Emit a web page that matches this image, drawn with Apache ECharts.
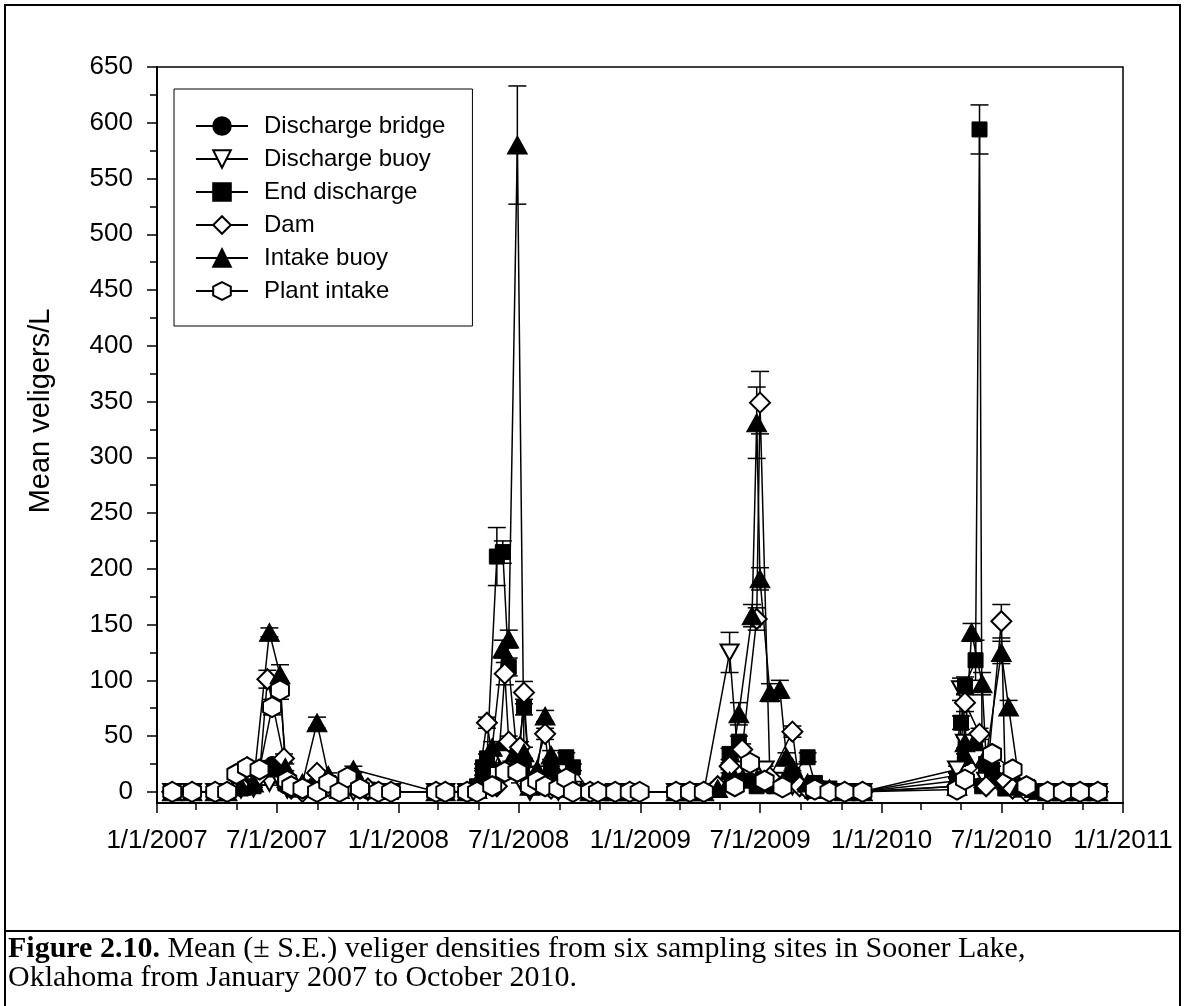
<!DOCTYPE html>
<html>
<head>
<meta charset="utf-8">
<title>Sooner Lake veliger densities</title>
<script src="https://cdn.jsdelivr.net/npm/echarts@6/dist/echarts.min.js"></script>
<style>
  html, body { margin: 0; padding: 0; background: #fff; }
  #chart { width: 1185px; height: 1006px; }
</style>
</head>
<body>
<div id="chart"></div>
<script>
// Mean veligers/L per sampling date: [date, mean, S.E.]
const dischargeBridge = [
  ['2007-01-24',0,0],['2007-02-23',0,0],['2007-03-30',0,0],['2007-04-17',0,0],
  ['2007-05-08',3,1],['2007-05-27',5,1],['2007-06-24',25,3],['2007-07-06',22,3],
  ['2007-07-14',5,1],['2007-08-09',3,1],['2007-08-31',8,2],['2007-09-17',5,1],
  ['2007-10-25',5,1],['2007-11-16',0,0],['2007-12-21',0,0],['2008-02-27',0,0],['2008-03-12',0,0],
  ['2008-04-14',0,0],['2008-04-29',0,0],['2008-05-22',20,3],['2008-06-07',40,5],['2008-06-22',30,4],
  ['2008-07-09',25,3],['2008-07-29',10,2],['2008-08-19',15,2],['2008-09-11',10,2],
  ['2008-10-17',0,0],['2008-11-24',0,0],['2008-12-16',0,0],
  ['2009-02-24',0,0],['2009-03-17',0,0],['2009-04-07',0,0],['2009-05-16',15,2],['2009-06-04',20,3],
  ['2009-06-26',10,2],['2009-07-16',5,1],['2009-08-19',10,2],['2009-09-22',3,1],['2009-11-06',0,0],['2009-12-03',0,0],
  ['2010-04-25',15,2],['2010-05-07',30,4],['2010-05-23',40,5],['2010-06-08',20,3],['2010-07-01',10,2],
  ['2010-07-18',5,1],['2010-08-08',2,1],['2010-09-09',0,0],['2010-10-02',0,0],['2010-10-28',0,0],['2010-11-24',0,0]
];
const dischargeBuoy = [
  ['2007-01-24',0,0],['2007-02-23',0,0],['2007-03-30',0,0],['2007-04-17',0,0],
  ['2007-05-08',2,1],['2007-05-27',3,1],['2007-06-20',8,2],['2007-07-06',10,2],['2007-07-17',2,1],
  ['2007-08-09',2,1],['2007-08-31',3,1],['2007-09-26',2,1],['2007-10-25',0,0],['2007-11-16',0,0],
  ['2007-12-21',0,0],['2008-02-27',0,0],['2008-03-12',0,0],
  ['2008-04-14',0,0],['2008-04-29',0,0],['2008-05-22',15,2],['2008-06-07',30,4],['2008-06-22',20,3],
  ['2008-07-03',10,2],['2008-07-18',0,0],['2008-08-10',10,2],['2008-08-30',0,0],['2008-09-21',2,1],
  ['2008-10-17',0,0],['2008-11-24',0,0],['2008-12-16',0,0],
  ['2009-02-24',0,0],['2009-03-17',0,0],['2009-04-07',0,0],['2009-05-16',125,18],['2009-05-30',20,3],
  ['2009-06-16',15,2],['2009-07-08',20,3],['2009-07-23',10,2],['2009-08-19',5,1],['2009-09-22',2,1],
  ['2009-10-14',0,0],['2009-11-06',0,0],['2009-12-03',0,0],
  ['2010-04-25',20,3],['2010-05-01',92,10],['2010-05-07',44,5],['2010-05-23',30,4],['2010-06-08',10,2],
  ['2010-07-01',5,1],['2010-07-18',3,1],['2010-08-08',0,0],['2010-09-09',0,0],['2010-10-02',0,0],
  ['2010-10-28',0,0],['2010-11-24',0,0]
];
const endDischarge = [
  ['2007-01-24',0,0],['2007-02-23',0,0],['2007-03-30',0,0],['2007-04-17',0,0],
  ['2007-05-08',3,1],['2007-05-27',5,1],['2007-06-17',20,3],['2007-07-06',20,3],['2007-07-14',8,2],
  ['2007-07-31',2,1],['2007-08-31',5,1],['2007-09-17',8,2],['2007-10-16',5,1],['2007-11-16',2,1],
  ['2007-12-21',0,0],['2008-02-27',0,0],['2008-03-12',0,0],
  ['2008-04-14',0,0],['2008-04-29',5,1],['2008-05-08',22,3],['2008-05-14',30,4],['2008-05-29',211,26],
  ['2008-06-07',215,10],['2008-06-16',112,8],['2008-06-29',30,4],['2008-07-09',76,7],['2008-07-18',10,2],
  ['2008-07-29',8,2],['2008-08-10',5,1],['2008-08-19',20,3],['2008-09-11',31,4],['2008-09-21',22,3],
  ['2008-10-17',0,0],['2008-10-29',0,0],['2008-11-24',0,0],['2008-12-16',0,0],
  ['2009-02-24',0,0],['2009-03-17',0,0],['2009-04-07',0,0],['2009-04-28',2,1],['2009-05-16',34,5],
  ['2009-05-30',45,5],['2009-06-10',10,2],['2009-06-26',5,1],['2009-07-08',10,2],['2009-07-23',5,1],
  ['2009-08-19',15,2],['2009-09-11',31,4],['2009-09-22',8,2],['2009-10-14',3,1],['2009-11-06',0,0],['2009-12-03',0,0],
  ['2010-04-25',10,2],['2010-05-01',62,6],['2010-05-07',95,8],['2010-05-23',118,18],['2010-05-29',594,22],
  ['2010-06-02',5,1],['2010-06-08',25,3],['2010-06-17',20,3],['2010-06-25',10,2],['2010-07-07',3,1],
  ['2010-07-18',5,1],['2010-07-29',2,1],['2010-08-08',3,1],['2010-08-20',0,0],['2010-09-09',0,0],
  ['2010-10-02',0,0],['2010-10-28',0,0],['2010-11-24',0,0]
];
const dam = [
  ['2007-01-24',0,0],['2007-02-23',0,0],['2007-03-30',0,0],['2007-04-17',0,0],
  ['2007-05-08',5,1],['2007-05-17',22,2],['2007-06-05',15,2],['2007-06-17',101,8],['2007-07-12',30,4],
  ['2007-07-23',3,1],['2007-08-09',0,0],['2007-08-31',17,2],['2007-09-17',5,1],['2007-10-04',0,0],
  ['2007-10-16',5,1],['2007-11-16',3,1],['2007-12-02',0,0],['2007-12-21',0,0],['2008-02-27',0,0],['2008-03-12',0,0],
  ['2008-04-14',0,0],['2008-04-29',0,0],['2008-05-14',62,5],['2008-05-29',5,1],['2008-06-10',106,10],
  ['2008-06-16',45,5],['2008-07-03',40,5],['2008-07-09',89,10],['2008-07-18',5,1],['2008-08-10',52,5],
  ['2008-08-19',3,1],['2008-08-30',8,2],['2008-09-21',2,1],['2008-10-17',0,0],['2008-10-29',0,0],
  ['2008-11-24',0,0],['2008-12-16',0,0],
  ['2009-02-24',0,0],['2009-03-17',0,0],['2009-04-07',0,0],['2009-04-28',5,1],['2009-05-16',23,3],
  ['2009-06-04',38,5],['2009-06-26',155,10],['2009-07-01',349,28],['2009-07-16',13,2],['2009-08-19',54,5],
  ['2009-08-30',5,1],['2009-09-11',2,1],['2009-10-14',0,0],['2009-11-06',0,0],['2009-12-03',0,0],
  ['2010-04-25',5,1],['2010-05-07',80,8],['2010-05-29',52,5],['2010-06-08',5,1],['2010-07-01',153,15],
  ['2010-07-07',10,2],['2010-07-18',3,1],['2010-08-08',0,0],['2010-09-09',0,0],['2010-10-02',0,0],
  ['2010-10-28',0,0],['2010-11-24',0,0]
];
const intakeBuoy = [
  ['2007-01-24',0,0],['2007-02-23',0,0],['2007-03-30',0,0],['2007-04-17',0,0],
  ['2007-05-08',5,1],['2007-05-27',8,2],['2007-06-20',143,4],['2007-07-06',105,9],['2007-07-14',22,3],
  ['2007-07-31',5,1],['2007-08-09',8,2],['2007-08-31',62,5],['2007-09-17',15,2],['2007-10-04',2,1],
  ['2007-10-25',20,3],['2008-02-27',0,0],['2008-03-12',0,0],
  ['2008-04-14',0,0],['2008-04-29',2,1],['2008-05-08',18,3],['2008-05-22',40,5],['2008-06-07',128,8],
  ['2008-06-16',137,8],['2008-06-29',580,53],['2008-07-09',35,5],['2008-07-18',5,2],['2008-07-29',20,3],
  ['2008-08-10',68,5],['2008-08-19',33,4],['2008-08-30',15,3],['2008-09-21',3,1],['2008-10-17',0,0],
  ['2008-10-29',0,0],['2008-11-24',0,0],['2008-12-16',0,0],
  ['2009-02-24',0,0],['2009-03-17',0,0],['2009-04-07',0,0],['2009-04-28',3,1],['2009-05-16',10,2],
  ['2009-05-30',70,10],['2009-06-19',158,10],['2009-06-26',331,32],['2009-07-01',191,10],['2009-07-16',89,8],
  ['2009-07-31',92,8],['2009-08-10',31,4],['2009-08-19',22,3],['2009-09-11',8,2],['2009-09-22',2,1],
  ['2009-10-14',3,1],['2009-11-06',0,0],['2009-12-03',0,0],
  ['2010-04-25',5,1],['2010-05-07',44,5],['2010-05-17',143,8],['2010-06-02',97,10],['2010-06-08',30,4],
  ['2010-07-01',125,10],['2010-07-12',76,6],['2010-07-29',5,1],['2010-08-08',6,1],['2010-08-20',3,1],
  ['2010-09-09',0,0],['2010-10-02',0,0],['2010-10-28',0,0],['2010-11-24',0,0]
];
const plantIntake = [
  ['2007-01-24',0,0],['2007-02-23',0,0],['2007-03-30',0,0],['2007-04-17',0,0],
  ['2007-05-01',16,2],['2007-05-17',22,2],['2007-06-05',20,2],['2007-06-24',76,7],['2007-07-06',91,8],
  ['2007-07-17',10,2],['2007-07-23',5,1],['2007-08-09',3,1],['2007-08-31',0,0],['2007-09-17',8,1],
  ['2007-10-04',0,0],['2007-10-16',13,2],['2007-11-04',3,1],['2007-12-02',0,0],['2007-12-21',0,0],
  ['2008-02-27',0,0],['2008-03-12',0,0],
  ['2008-04-14',0,0],['2008-04-29',0,0],['2008-05-22',5,1],['2008-06-10',18,2],['2008-06-29',18,2],
  ['2008-07-18',5,1],['2008-07-29',10,2],['2008-08-10',5,1],['2008-08-30',3,1],['2008-09-11',12,2],
  ['2008-09-21',0,0],['2008-10-17',0,0],['2008-10-29',0,0],['2008-11-24',0,0],['2008-12-16',0,0],['2008-12-31',0,0],
  ['2009-02-24',0,0],['2009-03-17',0,0],['2009-04-07',0,0],['2009-05-24',5,1],['2009-06-16',26,3],
  ['2009-07-08',10,2],['2009-08-04',4,1],['2009-09-22',2,1],['2009-10-14',0,0],['2009-11-06',0,0],['2009-12-03',0,0],
  ['2010-04-25',2,1],['2010-05-07',11,2],['2010-06-17',34,4],['2010-07-18',20,3],['2010-08-08',5,1],
  ['2010-09-09',0,0],['2010-10-02',0,0],['2010-10-28',0,0],['2010-11-24',0,0]
];

// Axis ticks
const yMajorTicks = [0,50,100,150,200,250,300,350,400,450,500,550,600,650];
const yMinorTicks = [25,75,125,175,225,275,325,375,425,475,525,575,625];
const xMajorTicks = ['2007-01-01','2007-07-01','2008-01-01','2008-07-01','2009-01-01',
                     '2009-07-01','2010-01-01','2010-07-01','2011-01-01'];
const xMinorTicks = ['2007-03-01','2007-05-01','2007-09-01','2007-11-01','2008-03-01','2008-05-01',
                     '2008-09-01','2008-11-01','2009-03-01','2009-05-01','2009-09-01','2009-11-01',
                     '2010-03-01','2010-05-01','2010-09-01','2010-11-01'];

function ts(s) {
  const p = s.split('-').map(Number);
  return Date.UTC(p[0], p[1] - 1, p[2]);
}
function fmtDate(v) {
  const d = new Date(v);
  return (d.getUTCMonth() + 1) + '/' + d.getUTCDate() + '/' + d.getUTCFullYear();
}

const HEX = 'path://M0,-1L0.866,-0.5L0.866,0.5L0,1L-0.866,0.5L-0.866,-0.5Z';
const sites = [
  { name: 'Discharge bridge', rows: dischargeBridge, symbol: 'circle',   size: 15,       rotate: 0,   open: false },
  { name: 'Discharge buoy',   rows: dischargeBuoy,   symbol: 'triangle', size: [18, 16], rotate: 180, open: true  },
  { name: 'End discharge',    rows: endDischarge,    symbol: 'rect',     size: 15,       rotate: 0,   open: false },
  { name: 'Dam',              rows: dam,             symbol: 'diamond',  size: 20,       rotate: 0,   open: true  },
  { name: 'Intake buoy',      rows: intakeBuoy,      symbol: 'triangle', size: [20, 18], rotate: 0,   open: false },
  { name: 'Plant intake',     rows: plantIntake,     symbol: HEX,        size: [18, 20], rotate: 0,   open: true  }
];

const FONT = 'Liberation Sans, Arial, sans-serif';
const SERIF = '"Liberation Serif", "Times New Roman", serif';
const xMin = ts('2007-01-01'), xMax = ts('2011-01-01');

function renderErrorBar(params, api) {
  const x = api.value(0);
  const lo = api.coord([x, api.value(1)]);
  const hi = api.coord([x, api.value(2)]);
  const w = 9;
  const st = { stroke: '#000', lineWidth: 1.5 };
  return {
    type: 'group',
    children: [
      { type: 'line', shape: { x1: hi[0], y1: hi[1], x2: lo[0], y2: lo[1] }, style: st },
      { type: 'line', shape: { x1: hi[0] - w, y1: hi[1], x2: hi[0] + w, y2: hi[1] }, style: st },
      { type: 'line', shape: { x1: lo[0] - w, y1: lo[1], x2: lo[0] + w, y2: lo[1] }, style: st }
    ]
  };
}

const series = [];
sites.forEach(function (s) {
  series.push({
    name: s.name + ' S.E.',
    type: 'custom',
    xAxisIndex: 0, yAxisIndex: 0,
    renderItem: renderErrorBar,
    encode: { x: 0, y: [1, 2] },
    data: s.rows.filter(r => r[2] > 0).map(r => [ts(r[0]), r[1] - r[2], r[1] + r[2]]),
    silent: true
  });
  series.push({
    name: s.name,
    type: 'line',
    xAxisIndex: 0, yAxisIndex: 0,
    data: s.rows.map(r => [ts(r[0]), r[1]]),
    symbol: s.symbol,
    symbolSize: s.size,
    symbolRotate: s.rotate,
    showAllSymbol: true,
    lineStyle: { color: '#000', width: 1.5 },
    itemStyle: s.open
      ? { color: '#fff', borderColor: '#000', borderWidth: 2 }
      : { color: '#000', borderColor: '#000', borderWidth: 1 },
    emphasis: { disabled: true },
    silent: true
  });
});

const chart = echarts.init(document.getElementById('chart'), null, { renderer: 'canvas' });
chart.setOption({
  animation: false,
  backgroundColor: '#fff',
  grid: {
    left: 157, top: 67, width: 966, height: 736,
    show: true, borderColor: '#000', borderWidth: 1.5, backgroundColor: 'transparent',
    outerBoundsMode: 'none'
  },
  legend: {
    orient: 'vertical',
    left: 174, top: 89,
    padding: [25, 27, 23, 21],
    itemWidth: 52, itemHeight: 22, itemGap: 9,
    borderColor: '#000', borderWidth: 1,
    selectedMode: false,
    data: sites.map(s => s.name),
    textStyle: { fontSize: 24, lineHeight: 24, color: '#000', fontFamily: FONT, padding: [0, 0, 0, 11] }
  },
  xAxis: [{
    type: 'value', min: xMin, max: xMax,
    axisLine: { show: true, onZero: false, lineStyle: { color: '#000', width: 2 } },
    axisTick: { show: true, length: 10, lineStyle: { color: '#000', width: 1.5 }, customValues: xMajorTicks.map(ts) },
    axisLabel: { customValues: xMajorTicks.map(ts), formatter: fmtDate, fontSize: 26, color: '#000',
                 fontFamily: FONT, margin: 25, showMinLabel: true, showMaxLabel: true },
    splitLine: { show: false }
  }, {
    type: 'value', min: xMin, max: xMax, position: 'bottom',
    axisLine: { show: false, onZero: false },
    axisTick: { show: true, length: 7, lineStyle: { color: '#000', width: 1.5 }, customValues: xMinorTicks.map(ts) },
    axisLabel: { show: false },
    splitLine: { show: false }
  }],
  yAxis: [{
    type: 'value', min: -10, max: 650,
    axisLine: { show: true, onZero: false, lineStyle: { color: '#000', width: 2 } },
    axisTick: { show: true, length: 10, lineStyle: { color: '#000', width: 1.5 }, customValues: yMajorTicks },
    axisLabel: { customValues: yMajorTicks, fontSize: 26, color: '#000', fontFamily: FONT, margin: 24 },
    splitLine: { show: false },
    name: 'Mean veligers/L', nameLocation: 'middle', nameGap: 102,
    nameTextStyle: { fontSize: 29, color: '#000', fontFamily: FONT, padding: [0, 0, 0, 48] }
  }, {
    type: 'value', min: -10, max: 650, position: 'left',
    axisLine: { show: false, onZero: false },
    axisTick: { show: true, length: 7, lineStyle: { color: '#000', width: 1.5 }, customValues: yMinorTicks },
    axisLabel: { show: false },
    splitLine: { show: false }
  }],
  graphic: [
    { type: 'rect', shape: { x: 5, y: 5, width: 1175, height: 1020 },
      style: { fill: 'none', stroke: '#000', lineWidth: 2 }, silent: true },
    { type: 'line', shape: { x1: 5, y1: 931, x2: 1180, y2: 931 },
      style: { stroke: '#000', lineWidth: 2 }, silent: true },
    { type: 'text', x: 8, y: 949,
      style: {
        text: '{b|Figure 2.10.} Mean (± S.E.) veliger densities from six sampling sites in Sooner Lake,',
        font: '30px ' + SERIF, fill: '#000', verticalAlign: 'middle',
        rich: { b: { fontWeight: 'bold', fontSize: 30, fontFamily: SERIF } }
      }, silent: true },
    { type: 'text', x: 8, y: 978,
      style: {
        text: 'Oklahoma from January 2007 to October 2010.',
        font: '30px ' + SERIF, fill: '#000', verticalAlign: 'middle'
      }, silent: true }
  ],
  series: series
});
</script>
</body>
</html>
